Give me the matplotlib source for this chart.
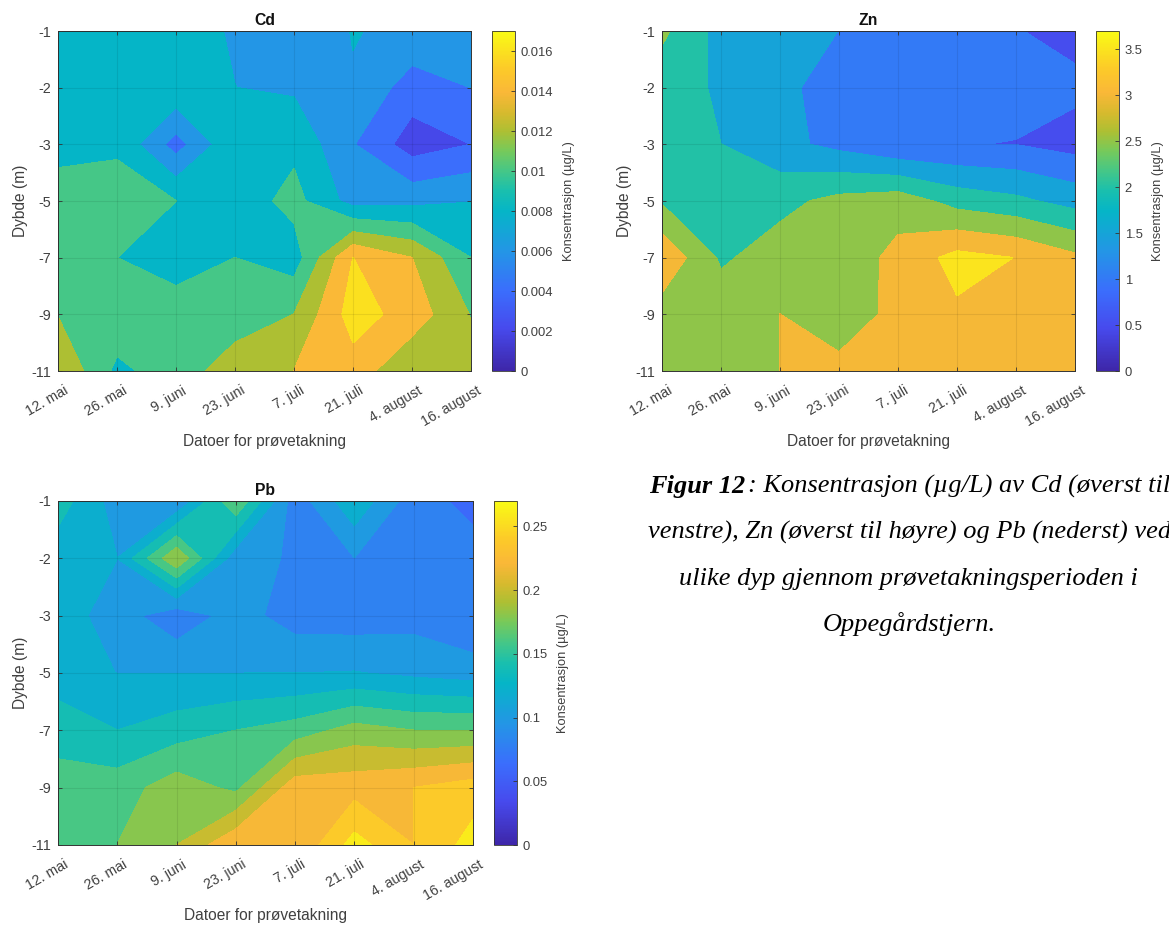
import numpy as np
import matplotlib
matplotlib.use("Agg")
import matplotlib.pyplot as plt
from matplotlib.colors import LinearSegmentedColormap, Normalize
from matplotlib.cm import ScalarMappable
from matplotlib.transforms import ScaledTranslation

dates = ["12. mai", "26. mai", "9. juni", "23. juni", "7. juli", "21. juli", "4. august", "16. august"]
depths = [-1, -2, -3, -5, -7, -9, -11]

cd = [
    [.0090, .0090, .0088, .0078, .0062, .0081, .0075, .0070],
    [.0090, .0095, .0095, .00801, .0077, .0078, .0050, .0060],
    [.0095, .0097, .0051, .0097, .0095, .0061, .0030, .0040],
    [.0107, .0108, .0100, .00883, .01066, .0072, .0074, .00795],
    [.0108, .0100, .0095, .0100, .00894, .01601, .0140, .0100],
    [.0119, .0114, .0105, .0110, .0120, .0169, .0151, .0119],
    [.0139, .0095, .0110, .0130, .01401, .0151, .0122, .0125],
]
zn = [
    [2.60, 1.81, 1.70, 1.495, 1.30, 1.25, 1.02, 0.86],
    [2.20, 1.94, 1.70, 1.13, 1.10, 1.05, 1.10, 1.10],
    [2.30, 2.00, 1.65, 1.35, 1.03, 1.01, 0.99, 0.81],
    [2.44, 2.20, 2.35, 2.65, 2.78, 2.30, 2.11, 1.81],
    [3.40, 2.42, 2.75, 2.66, 3.15, 3.66, 3.49, 3.10],
    [2.75, 2.80, 3.001, 2.70, 3.15, 3.42, 3.30, 3.20],
    [2.70, 2.75, 3.001, 3.15, 3.20, 3.20, 3.20, 3.15],
]
pb = [
    [.150, .110, .100, .178, .088, .135, .088, .074],
    [.127, .120, .198, .106, .098, .0995, .090, .088],
    [.130, .110, .085, .109, .090, .089, .0925, .081],
    [.125, .1198, .1198, .1198, .1198, .121, .115, .110],
    [.156, .140, .150, .160, .169, .188, .180, .180],
    [.164, .170, .191, .175, .232, .232, .240, .250],
    [.165, .180, .200, .237, .221, .268, .240, .268],
]
cd_levels = [0, .002, .004, .006, .008, .010, .012, .014, .016]
zn_levels = [0, .5, 1, 1.5, 2, 2.5, 3, 3.5]
pb_levels = [0, .02, .04, .06, .08, .10, .12, .14, .16, .18, .20, .22, .24, .26]
cd_ticks = [0, .002, .004, .006, .008, .010, .012, .014, .016]
zn_ticks = [0, .5, 1, 1.5, 2, 2.5, 3, 3.5]
pb_ticks = [0, .05, .10, .15, .20, .25]
vmax = {"Cd": .017, "Zn": 3.7, "Pb": .27}

parula = LinearSegmentedColormap.from_list("parula", [
    (0.000, (.2422, .1504, .6603)),
    (0.125, (.2780, .2900, .9300)),
    (0.235, (.2300, .4300, .9900)),
    (0.353, (.1370, .5880, .9000)),
    (0.470, (.0200, .7100, .7800)),
    (0.530, (.1000, .7500, .6800)),
    (0.588, (.2700, .7800, .5300)),
    (0.650, (.4700, .7900, .3500)),
    (0.706, (.6800, .7500, .2000)),
    (0.760, (.8400, .7300, .1800)),
    (0.820, (.9800, .7200, .2200)),
    (0.890, (.9900, .7900, .1600)),
    (1.000, (.9769, .9839, .0805)),
], N=256)

W, H = 1169, 926
DARK = "#404040"
plt.rcParams["font.family"] = ["Liberation Sans", "DejaVu Sans"]
fig = plt.figure(figsize=(W / 100, H / 100), dpi=100, facecolor="white")


def px_axes(x0, y0, x1, y1):
    return fig.add_axes([x0 / W, 1 - y1 / H, (x1 - x0) / W, (y1 - y0) / H])


def panel(name, data, levels, ticks, box, cbox):
    ax = px_axes(*box)
    z = np.array(data)
    xs = np.arange(len(dates))
    ys = np.arange(len(depths))
    norm = Normalize(0, vmax[name])
    cols = [parula(norm(l)) for l in levels]
    cs = ax.contourf(xs, ys, z, levels=list(levels) + [vmax[name] * 1.5], colors=cols)
    cs.set_edgecolor("face")
    cs.set_linewidth(.4)
    ax.set_xlim(xs[0], xs[-1])
    ax.set_ylim(ys[-1], ys[0])
    ax.set_xticks(xs)
    ax.set_xticklabels(dates, rotation=30, ha="right", rotation_mode="anchor", fontsize=10.2, color=DARK)
    ax.set_yticks(ys)
    ax.set_yticklabels(depths, fontsize=10.4, color=DARK)
    ax.tick_params(axis="x", pad=9)
    ax.tick_params(axis="y", pad=5)
    ax.tick_params(axis="both", direction="in", length=3, width=.6, color="#333333", top=True, right=True)
    shift = ScaledTranslation(4 / 72, 0, fig.dpi_scale_trans)
    for lab in ax.get_xticklabels():
        lab.set_transform(lab.get_transform() + shift)
    ax.grid(True, color="k", alpha=.08, lw=.8)
    ax.set_axisbelow(False)
    for s in ax.spines.values():
        s.set_color("#333333")
        s.set_linewidth(.7)
    ax.set_title(name, fontsize=11.3, fontweight="bold", color="#111111", pad=4)
    ax.set_xlabel("Datoer for prøvetakning", fontsize=11.2, color=DARK, labelpad=4)
    ax.set_ylabel("Dybde (m)", fontsize=11.2, color=DARK, labelpad=2)

    cax = px_axes(*cbox)
    cb = fig.colorbar(ScalarMappable(norm=norm, cmap=parula), cax=cax)
    cb.set_ticks(ticks)
    cb.set_ticklabels([f"{t:g}" for t in ticks])
    cb.ax.tick_params(direction="in", length=3, width=.6, color="#333333", labelsize=9.4, labelcolor=DARK, pad=4)
    cb.outline.set_edgecolor("#333333")
    cb.outline.set_linewidth(.6)
    cb.set_label("Konsentrasjon (µg/L)", fontsize=9.3, color=DARK, labelpad=7)


panel("Cd", cd, cd_levels, cd_ticks, (58, 31, 471, 371), (492, 31, 515, 371))
panel("Zn", zn, zn_levels, zn_ticks, (662, 31, 1075, 371), (1096, 31, 1119, 371))
panel("Pb", pb, pb_levels, pb_ticks, (58, 501, 473, 845), (494, 501, 517, 845))

tkw = dict(family=["Liberation Serif", "DejaVu Serif"], style="italic", fontsize=19, color="black", va="baseline")
lead = fig.text(649 / W, 1 - 493 / H, "Figur 12", fontweight="bold", **tkw)
fig.canvas.draw()
bb = lead.get_window_extent()
fig.text((bb.x1 + 3) / W, 1 - 493 / H, ": Konsentrasjon (µg/L) av Cd (øverst til", **tkw)
fig.text(648 / W, 1 - 539 / H, "venstre), Zn (øverst til høyre) og Pb (nederst) ved", **tkw)
fig.text(679 / W, 1 - 585 / H, "ulike dyp gjennom prøvetakningsperioden i", **tkw)
fig.text(823 / W, 1 - 631 / H, "Oppegårdstjern.", **tkw)

fig.savefig("out.png", dpi=100)
